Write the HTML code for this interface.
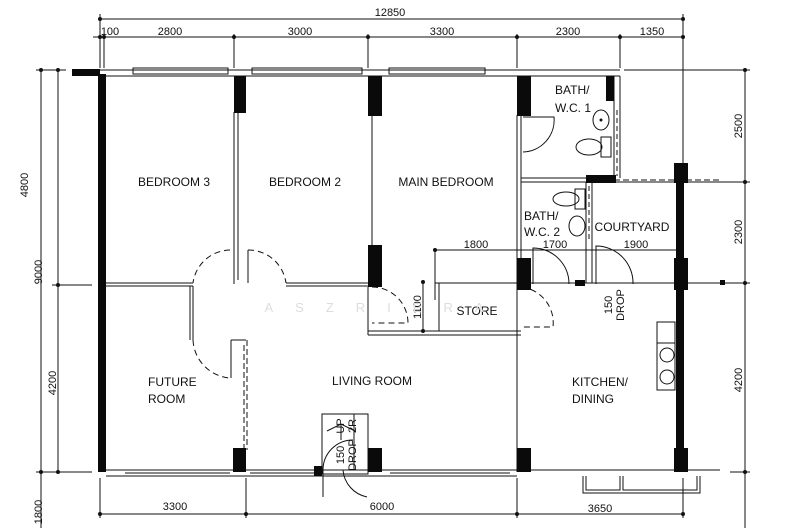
<!DOCTYPE html>
<html><head><meta charset="utf-8"><style>
html,body{margin:0;padding:0;background:#fff;width:800px;height:528px;overflow:hidden}
svg{display:block}
text{font-family:"Liberation Sans Narrow","Liberation Sans",sans-serif;font-size:12px;fill:#111}
.d{font-size:11px}
</style></head><body>
<svg width="800" height="528" viewBox="0 0 800 528" xmlns="http://www.w3.org/2000/svg">
<g stroke="#111" stroke-width="1" fill="none">
<!-- top dims -->
<line x1="100" y1="19" x2="683" y2="19"/>
<line x1="93" y1="37" x2="683" y2="37"/>
<line x1="100" y1="14" x2="100" y2="68"/><line x1="104" y1="34" x2="104" y2="68"/>
<line x1="234" y1="34" x2="234" y2="68"/><line x1="368" y1="34" x2="368" y2="68"/>
<line x1="517" y1="34" x2="517" y2="68"/><line x1="620" y1="34" x2="620" y2="68"/>
<line x1="683" y1="14" x2="683" y2="165"/>
<!-- left dims -->
<line x1="41" y1="70" x2="41" y2="528"/><line x1="58" y1="70" x2="58" y2="472"/>
<line x1="36" y1="70" x2="66" y2="70"/><line x1="52" y1="285" x2="92" y2="285"/>
<line x1="36" y1="472" x2="92" y2="472"/>
<!-- right dims -->
<line x1="745" y1="70" x2="745" y2="528"/>
<line x1="624" y1="70" x2="750" y2="70"/>
<line x1="690" y1="182" x2="750" y2="182"/><line x1="690" y1="283" x2="750" y2="283"/>
<line x1="730" y1="472" x2="750" y2="472"/>
<!-- bottom dims -->
<line x1="100" y1="514" x2="683" y2="514"/>
<line x1="100" y1="478" x2="100" y2="518"/><line x1="246" y1="478" x2="246" y2="518"/>
<line x1="517" y1="478" x2="517" y2="518"/><line x1="683" y1="478" x2="683" y2="518"/>
<!-- top wall with windows -->
<line x1="100" y1="70" x2="620" y2="70"/><line x1="100" y1="76" x2="620" y2="76"/>
<rect x="133" y="68" width="95" height="6"/><rect x="252" y="68" width="110" height="6"/><rect x="389" y="68" width="96" height="6"/>
<!-- interior walls -->
<line x1="234" y1="112" x2="234" y2="284"/><line x1="238" y1="112" x2="238" y2="280"/>
<line x1="372" y1="115" x2="372" y2="245"/>
<line x1="517" y1="115" x2="517" y2="472"/><line x1="521" y1="115" x2="521" y2="258"/>
<line x1="106" y1="283" x2="193" y2="283"/><line x1="106" y1="286" x2="193" y2="286"/>
<line x1="248" y1="283" x2="248" y2="250"/>
<line x1="286" y1="283" x2="368" y2="283"/><line x1="286" y1="286" x2="368" y2="286"/>
<line x1="193" y1="286" x2="193" y2="340"/><line x1="190" y1="286" x2="190" y2="340"/>
<line x1="231" y1="340" x2="231" y2="378"/><line x1="231" y1="340" x2="246" y2="340"/>
<line x1="244" y1="345" x2="244" y2="450" stroke-dasharray="6,3"/><line x1="247" y1="340" x2="247" y2="450" stroke-dasharray="6,3"/>
<!-- store -->
<line x1="368" y1="331" x2="521" y2="331"/><line x1="368" y1="335" x2="521" y2="335"/>
<line x1="368" y1="287" x2="368" y2="335"/>
<rect x="439" y="283" width="78" height="48"/>
<line x1="435" y1="283" x2="517" y2="283"/>
<line x1="435" y1="250" x2="517" y2="250"/><line x1="435" y1="250" x2="435" y2="300"/>
<line x1="423" y1="282" x2="423" y2="331"/>
<!-- baths -->
<line x1="521" y1="178" x2="614" y2="178"/><line x1="521" y1="182" x2="590" y2="182"/>
<line x1="614" y1="76" x2="614" y2="178"/><line x1="620" y1="76" x2="620" y2="178"/>
<line x1="617" y1="110" x2="617" y2="176" stroke-dasharray="5,3"/>
<line x1="586" y1="182" x2="586" y2="283"/><line x1="592" y1="182" x2="592" y2="283"/>
<line x1="589" y1="186" x2="589" y2="240" stroke-dasharray="5,3"/>
<line x1="614" y1="182" x2="676" y2="182"/><line x1="614" y1="180" x2="720" y2="180" stroke-dasharray="6,3"/>
<line x1="688" y1="182" x2="725" y2="182"/>
<line x1="517" y1="250" x2="683" y2="250"/>
<line x1="531" y1="283" x2="600" y2="283"/><line x1="596" y1="283" x2="676" y2="283"/>
<line x1="688" y1="283" x2="725" y2="283"/>
<path d="M523 117 L554 117 A32 32 0 0 1 523 152"/>
<path d="M533 284 L533 248 A36 36 0 0 1 569 284"/>
<path d="M596 284 L596 246 A37 37 0 0 1 633 284"/>
<ellipse cx="601" cy="120" rx="8" ry="10"/><circle cx="601" cy="120" r="1" fill="#111"/>
<ellipse cx="589" cy="147" rx="13" ry="8"/><rect x="601" y="137" width="10" height="20"/>
<ellipse cx="566" cy="199" rx="13" ry="7"/><rect x="575" y="189" width="10" height="20"/>
<ellipse cx="577" cy="226" rx="8" ry="10"/>
<!-- kitchen sink -->
<rect x="657" y="322" width="18" height="68"/><line x1="657" y1="343" x2="675" y2="343"/>
<circle cx="667" cy="355" r="7"/><circle cx="667" cy="377" r="7"/>
<!-- dashed doors -->
<g stroke-dasharray="6,4">
<path d="M230 250 A38 38 0 0 0 193 283"/><path d="M248 250 A38 38 0 0 1 286 283"/>
<path d="M193 340 A40 40 0 0 0 230 378"/>
<path d="M372 287 A36 36 0 0 1 408 323 L372 323"/>
<path d="M521 287 A36 36 0 0 1 553 327 L521 327"/>
</g>
<!-- bottom wall -->
<line x1="100" y1="470" x2="720" y2="470"/><line x1="106" y1="476" x2="517" y2="476"/>
<line x1="125" y1="473" x2="230" y2="473"/><line x1="390" y1="473" x2="510" y2="473"/>
<line x1="250" y1="473" x2="320" y2="473"/>
<path d="M583 476 L583 493 L700 493 L700 476"/><path d="M586 476 L586 490 L620 490 L620 476"/>
<path d="M623 476 L623 490 L697 490 L697 476"/>
<!-- entrance -->
<rect x="322" y="414" width="46" height="60"/><line x1="354" y1="414" x2="354" y2="470"/>
<path d="M323 497 L323 470 A30 30 0 0 1 353 440"/><path d="M367 497 A30 30 0 0 1 343 470"/>
<path d="M327 431 L341 424 L355 431 M341 424 L341 440"/>
</g>
<!-- black walls/columns -->
<g fill="#0a0a0a">
<rect x="72" y="69" width="28" height="7"/>
<rect x="98" y="74" width="8" height="398"/>
<rect x="234" y="76" width="12" height="37"/><rect x="368" y="76" width="14" height="40"/>
<rect x="517" y="76" width="14" height="40"/><rect x="606" y="76" width="8" height="25"/>
<rect x="368" y="245" width="14" height="42"/>
<rect x="586" y="175" width="30" height="8"/>
<rect x="676" y="165" width="8" height="307"/><rect x="674" y="163" width="14" height="20"/>
<rect x="674" y="258" width="14" height="32"/><rect x="674" y="448" width="14" height="24"/>
<rect x="517" y="258" width="14" height="32"/><rect x="517" y="448" width="14" height="24"/>
<rect x="233" y="448" width="13" height="24"/><rect x="368" y="448" width="14" height="24"/>
<rect x="314" y="466" width="8" height="10"/><rect x="575" y="280" width="10" height="6"/>
<rect x="720" y="280" width="5" height="5"/>
</g>
<g fill="#111">
<circle cx="100" cy="19" r="2"/><circle cx="683" cy="19" r="2"/>
<circle cx="100" cy="37" r="2"/><circle cx="104" cy="37" r="2"/><circle cx="234" cy="37" r="2"/><circle cx="368" cy="37" r="2"/><circle cx="517" cy="37" r="2"/><circle cx="620" cy="37" r="2"/><circle cx="683" cy="37" r="2"/>
<circle cx="41" cy="70" r="2"/><circle cx="58" cy="70" r="2"/><circle cx="58" cy="285" r="2"/><circle cx="41" cy="472" r="2"/><circle cx="58" cy="472" r="2"/>
<circle cx="745" cy="70" r="2"/><circle cx="745" cy="182" r="2"/><circle cx="745" cy="283" r="2"/><circle cx="745" cy="472" r="2"/>
<circle cx="100" cy="514" r="2"/><circle cx="246" cy="514" r="2"/><circle cx="517" cy="514" r="2"/><circle cx="683" cy="514" r="2"/>
<circle cx="435" cy="250" r="2"/><circle cx="423" cy="282" r="2"/><circle cx="423" cy="331" r="2"/>
</g>
<text x="390" y="16" class="d" text-anchor="middle">12850</text>
<text x="110" y="35" class="d" text-anchor="middle">100</text>
<text x="170" y="35" class="d" text-anchor="middle">2800</text>
<text x="300" y="35" class="d" text-anchor="middle">3000</text>
<text x="442" y="35" class="d" text-anchor="middle">3300</text>
<text x="568" y="35" class="d" text-anchor="middle">2300</text>
<text x="652" y="35" class="d" text-anchor="middle">1350</text>
<text x="175" y="510" class="d" text-anchor="middle">3300</text>
<text x="382" y="510" class="d" text-anchor="middle">6000</text>
<text x="600" y="512" class="d" text-anchor="middle">3650</text>
<text class="d" text-anchor="middle" transform="translate(28,185) rotate(-90)">4800</text>
<text class="d" text-anchor="middle" transform="translate(42,272) rotate(-90)">9000</text>
<text class="d" text-anchor="middle" transform="translate(56,383) rotate(-90)">4200</text>
<text class="d" text-anchor="middle" transform="translate(42,512) rotate(-90)">1800</text>
<text class="d" text-anchor="middle" transform="translate(742,126) rotate(-90)">2500</text>
<text class="d" text-anchor="middle" transform="translate(742,232) rotate(-90)">2300</text>
<text class="d" text-anchor="middle" transform="translate(742,380) rotate(-90)">4200</text>
<text class="d" text-anchor="middle" transform="translate(421,307) rotate(-90)">1100</text>
<text x="476" y="248" class="d" text-anchor="middle">1800</text>
<text x="555" y="248" class="d" text-anchor="middle">1700</text>
<text x="636" y="248" class="d" text-anchor="middle">1900</text>
<text class="d" text-anchor="middle" transform="translate(612,305) rotate(-90)">150</text>
<text class="d" text-anchor="middle" transform="translate(624,305) rotate(-90)">DROP</text>
<text class="d" text-anchor="middle" transform="translate(344,455) rotate(-90)">150</text>
<text class="d" text-anchor="middle" transform="translate(356,455) rotate(-90)">DROP</text>
<text class="d" text-anchor="middle" transform="translate(344,426) rotate(-90)">UP</text>
<text class="d" text-anchor="middle" transform="translate(356,426) rotate(-90)">2R</text>
<text x="174" y="186" text-anchor="middle">BEDROOM 3</text>
<text x="305" y="186" text-anchor="middle">BEDROOM 2</text>
<text x="446" y="186" text-anchor="middle">MAIN BEDROOM</text>
<text x="555" y="94">BATH/</text><text x="555" y="112">W.C.  1</text>
<text x="524" y="220">BATH/</text><text x="524" y="236">W.C.  2</text>
<text x="632" y="231" text-anchor="middle">COURTYARD</text>
<text x="477" y="315" text-anchor="middle">STORE</text>
<text x="148" y="386">FUTURE</text><text x="148" y="403">ROOM</text>
<text x="372" y="385" text-anchor="middle">LIVING  ROOM</text>
<text x="572" y="386">KITCHEN/</text><text x="572" y="403">DINING</text>
<text x="385" y="312" text-anchor="middle" style="fill:#ddd;font-size:13px;letter-spacing:22px">ASZRIERA</text>
</svg>
</body></html>
